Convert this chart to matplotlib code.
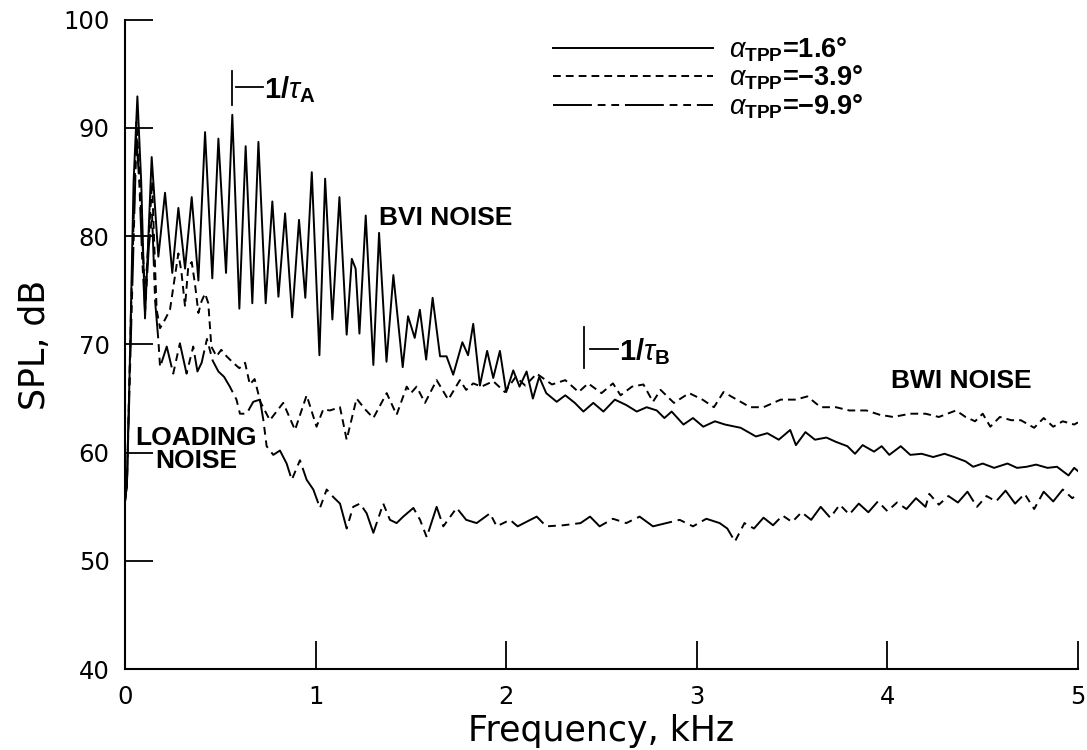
import matplotlib
matplotlib.use("Agg")
import matplotlib.pyplot as plt
import numpy as np

plt.rcParams['font.family'] = ['DejaVu Sans']
plt.rcParams['mathtext.fontset'] = 'custom'
plt.rcParams['mathtext.rm'] = 'Liberation Sans'
plt.rcParams['mathtext.bf'] = 'Liberation Sans:bold'
plt.rcParams['mathtext.it'] = 'Liberation Sans:italic'
plt.rcParams['mathtext.sf'] = 'Liberation Sans'

# ---------------- data (frequency in kHz, SPL in dB) ----------------
f_a16 = [0.0, 0.01, 0.025, 0.045, 0.065, 0.085, 0.105, 0.14, 0.175, 0.21, 0.248, 0.28, 0.315, 0.35,
         0.385, 0.42, 0.458, 0.49, 0.53, 0.563, 0.60, 0.633, 0.668, 0.70, 0.738, 0.773, 0.805,
         0.84, 0.877, 0.913, 0.946, 0.98, 1.02, 1.05, 1.088, 1.125, 1.163, 1.19, 1.21, 1.23,
         1.263, 1.303, 1.333, 1.372, 1.408, 1.457, 1.485, 1.52, 1.547, 1.58, 1.614, 1.653,
         1.687, 1.722, 1.77, 1.80, 1.827, 1.862, 1.90, 1.932, 1.967, 2.0, 2.037, 2.07, 2.107,
         2.14, 2.173, 2.21, 2.265, 2.31, 2.36, 2.405, 2.457, 2.51, 2.57, 2.63, 2.685, 2.737,
         2.79, 2.83, 2.868, 2.93, 2.98, 3.034, 3.095, 3.148, 3.23, 3.31, 3.37, 3.43, 3.49, 3.52,
         3.57, 3.62, 3.68, 3.73, 3.79, 3.83, 3.87, 3.93, 3.97, 4.01, 4.07, 4.12, 4.18, 4.24,
         4.30, 4.35, 4.41, 4.45, 4.50, 4.56, 4.63, 4.68, 4.73, 4.78, 4.84, 4.89, 4.95, 4.98, 5.0]
spl_a16 = [55.5, 57.0, 68.0, 85.0, 92.9, 85.0, 72.4, 87.3, 78.1, 84.0, 76.6, 82.6, 77.0, 83.6,
           75.9, 89.6, 76.1, 89.0, 76.6, 91.2, 73.3, 88.3, 73.8, 88.7, 73.8, 83.2, 74.4,
           82.1, 72.5, 81.5, 74.3, 85.9, 69.0, 85.3, 72.3, 83.6, 70.9, 77.9, 77.0, 71.0,
           81.9, 68.1, 80.3, 68.4, 76.4, 67.9, 72.6, 70.6, 73.2, 68.6, 74.3, 68.9,
           68.9, 67.2, 70.2, 69.0, 71.9, 66.2, 69.4, 66.9, 69.4, 65.6, 67.6, 66.1, 67.5,
           65.0, 67.0, 65.5, 64.7, 65.3, 64.6, 63.8, 64.6, 63.8, 64.9, 64.4, 63.8, 64.2,
           63.9, 63.2, 63.8, 62.6, 63.2, 62.4, 62.9, 62.6, 62.3, 61.5, 61.8, 61.2, 62.1, 60.7,
           61.9, 61.2, 61.4, 61.0, 60.6, 59.9, 60.7, 60.1, 60.6, 59.8, 60.6, 59.8, 59.9, 59.6,
           59.9, 59.6, 59.2, 58.7, 59.0, 58.6, 59.0, 58.6, 58.7, 58.9, 58.6, 58.7, 57.9, 58.6, 58.3]

f_m39 = [0.0, 0.01, 0.03, 0.06, 0.075, 0.09, 0.105, 0.125, 0.142, 0.158, 0.166, 0.184, 0.21,
         0.236, 0.262, 0.28, 0.296, 0.315, 0.332, 0.35, 0.367, 0.385, 0.402, 0.42, 0.437,
         0.453, 0.48, 0.505, 0.533, 0.568, 0.60, 0.63, 0.655, 0.68, 0.71, 0.76, 0.83, 0.892,
         0.953, 1.005, 1.04, 1.075, 1.128, 1.163, 1.215, 1.26, 1.303, 1.373, 1.425, 1.478,
         1.50, 1.53, 1.574, 1.635, 1.696, 1.757, 1.79, 1.827, 1.87, 1.932, 1.993, 2.05, 2.10,
         2.16, 2.24, 2.31, 2.38, 2.43, 2.50, 2.56, 2.60, 2.66, 2.72, 2.77, 2.81, 2.88, 2.96,
         3.03, 3.09, 3.14, 3.21, 3.28, 3.35, 3.44, 3.52, 3.58, 3.65, 3.73, 3.80, 3.89, 3.96,
         4.03, 4.12, 4.20, 4.27, 4.36, 4.41, 4.46, 4.50, 4.54, 4.59, 4.65, 4.70, 4.77, 4.82,
         4.87, 4.92, 4.98, 5.0]
spl_m39 = [55.5, 57.0, 72.0, 90.5, 86.0, 80.0, 74.5, 80.0, 85.0, 77.0, 73.2, 71.5, 72.3,
           73.2, 76.3, 78.4, 76.7, 73.5, 77.2, 77.6, 75.6, 72.9, 74.0, 74.7, 73.8,
           69.8, 68.9, 69.5, 68.9, 68.3, 67.8, 68.3, 66.3, 66.8, 64.7, 63.0, 64.6, 62.1,
           65.3, 62.4, 64.0, 63.9, 64.2, 61.2, 65.0, 64.0, 63.2, 65.5, 63.5, 66.1,
           65.5, 66.1, 64.6, 66.7, 64.9, 66.7, 65.8, 66.4, 66.1, 66.6, 65.6, 67.0, 66.2,
           67.3, 66.3, 66.7, 65.6, 66.4, 65.5, 66.4, 65.3, 66.1, 66.3, 64.7, 65.8, 64.6, 65.5,
           64.9, 64.2, 65.6, 64.9, 64.2, 64.2, 64.9, 64.9, 65.2, 64.2, 64.2, 63.9, 63.9, 63.5,
           63.3, 63.6, 63.6, 63.3, 63.9, 63.3, 62.9, 63.6, 62.4, 63.3, 63.0, 63.0, 62.3, 63.2,
           62.4, 62.9, 62.6, 62.8]

f_m99 = [0.0, 0.01, 0.03, 0.06, 0.075, 0.09, 0.105, 0.125, 0.142, 0.158, 0.175, 0.184, 0.219,
         0.253, 0.288, 0.323, 0.358, 0.38, 0.402, 0.43, 0.46, 0.49, 0.52, 0.55, 0.585, 0.603,
         0.638, 0.673, 0.708, 0.726, 0.743, 0.778, 0.813, 0.848, 0.875, 0.918, 0.953, 0.988,
         1.023, 1.058, 1.093, 1.128, 1.163, 1.197, 1.233, 1.268, 1.303, 1.355, 1.39, 1.425,
         1.46, 1.513, 1.548, 1.583, 1.635, 1.67, 1.74, 1.79, 1.845, 1.915, 1.95, 2.02, 2.06,
         2.16, 2.21, 2.30, 2.39, 2.44, 2.49, 2.56, 2.63, 2.70, 2.77, 2.84, 2.91, 2.98, 3.05,
         3.12, 3.16, 3.20, 3.25, 3.30, 3.35, 3.40, 3.45, 3.50, 3.55, 3.60, 3.65, 3.70, 3.75,
         3.80, 3.85, 3.90, 3.95, 4.00, 4.05, 4.10, 4.15, 4.20, 4.22, 4.27, 4.32, 4.37, 4.42,
         4.47, 4.52, 4.57, 4.62, 4.67, 4.72, 4.77, 4.82, 4.87, 4.92, 4.97, 5.0]
spl_m99 = [55.5, 57.0, 70.0, 89.0, 85.0, 78.0, 73.0, 79.0, 82.0, 74.0, 70.4, 67.9, 69.8,
           67.3, 70.1, 67.3, 69.8, 67.5, 68.3, 70.5, 68.5, 67.5, 67.0, 66.1, 64.9, 63.6,
           63.6, 64.7, 64.9, 63.0, 60.6, 59.8, 60.2, 59.0, 57.5, 59.3, 57.5, 56.6,
           54.9, 56.6, 55.9, 55.3, 53.0, 55.0, 55.3, 54.4, 52.6, 55.3, 53.8, 53.5,
           54.1, 54.9, 53.8, 52.2, 55.0, 53.2, 54.9, 53.8, 53.5, 54.4, 53.2, 53.8, 53.2,
           54.1, 53.2, 53.3, 53.5, 54.1, 53.2, 53.9, 53.5, 54.1, 53.2, 53.5, 53.8, 53.2, 53.9,
           53.5, 53.0, 51.8, 53.5, 53.0, 54.0, 53.3, 54.2, 53.6, 54.5, 53.8, 55.0, 54.0, 55.2,
           54.3, 55.3, 54.5, 55.5, 54.6, 55.4, 54.8, 55.8, 55.0, 56.2, 55.2, 56.0, 55.4, 56.4,
           55.0, 56.0, 55.5, 56.5, 55.3, 56.2, 54.8, 56.4, 55.5, 56.6, 55.8, 56.2]

legend_labels = [r"$\alpha_{\mathbf{TPP}}$=1.6°",
                 r"$\alpha_{\mathbf{TPP}}$=−3.9°",
                 r"$\alpha_{\mathbf{TPP}}$=−9.9°"]

x_ticks = [0, 1, 2, 3, 4, 5]
y_ticks = [40, 50, 60, 70, 80, 90, 100]

tau_A = 0.56   # kHz
tau_B = 2.41   # kHz

# ---------------- figure ----------------
fig = plt.figure(figsize=(10.87, 7.5), dpi=100)
ax = fig.add_axes([125 / 1087, 1 - 669.3 / 750, (1078 - 125) / 1087, (669.3 - 19.5) / 750])

lw = 1.4
ax.plot(f_a16, spl_a16, color='black', lw=lw, ls='-', label=legend_labels[0])
ax.plot(f_m39, spl_m39, color='black', lw=lw, dashes=(4.0, 2.6), label=legend_labels[1])
ax.plot(f_m99, spl_m99, color='black', lw=lw, dashes=(20, 3, 4, 3, 4, 3), label=legend_labels[2])

ax.set_xlim(0, 5)
ax.set_ylim(40, 100)
ax.set_xticks(x_ticks)
ax.set_yticks(y_ticks)
for s in ['top', 'right']:
    ax.spines[s].set_visible(False)
for s in ['left', 'bottom']:
    ax.spines[s].set_linewidth(1.5)
ax.tick_params(direction='in', length=20, width=1.3, labelsize=17.5, pad=11)

ax.set_xlabel("Frequency, kHz", fontsize=25, labelpad=4)
ax.set_ylabel("SPL, dB", fontsize=25, labelpad=8)

# legend
leg = ax.legend(loc='upper left', bbox_to_anchor=(0.449, 0.976), frameon=False,
                handlelength=5.9, handletextpad=0.6, labelspacing=0.0,
                borderpad=0, borderaxespad=0,
                prop=dict(family='Liberation Sans', weight='bold', size=19.5))

# annotations
bold = dict(family='Liberation Sans', weight='bold', color='black')
ax.plot([tau_A, tau_A], [92.1, 95.2], color='black', lw=1.3)
ax.plot([tau_A + 0.02, tau_A + 0.165], [93.8, 93.8], color='black', lw=1.3)
ax.text(tau_A + 0.17, 93.5, r"$\mathbf{1/}\tau_{\mathbf{A}}$", fontsize=21, va='center', ha='left', **bold)

ax.plot([tau_B, tau_B], [67.8, 71.6], color='black', lw=1.3)
ax.plot([tau_B + 0.03, tau_B + 0.175], [69.6, 69.6], color='black', lw=1.3)
ax.text(tau_B + 0.18, 69.3, r"$\mathbf{1/}\tau_{\mathbf{B}}$", fontsize=21, va='center', ha='left', **bold)

ax.text(1.333, 81.7, "BVI NOISE", fontsize=19, va='center', ha='left', **bold)
ax.text(4.02, 66.6, "BWI NOISE", fontsize=19, va='center', ha='left', **bold)
ax.text(0.375, 60.3, "LOADING\nNOISE", fontsize=19, va='center', ha='center',
        linespacing=0.95, **bold)

fig.savefig("out.png", dpi=100)
